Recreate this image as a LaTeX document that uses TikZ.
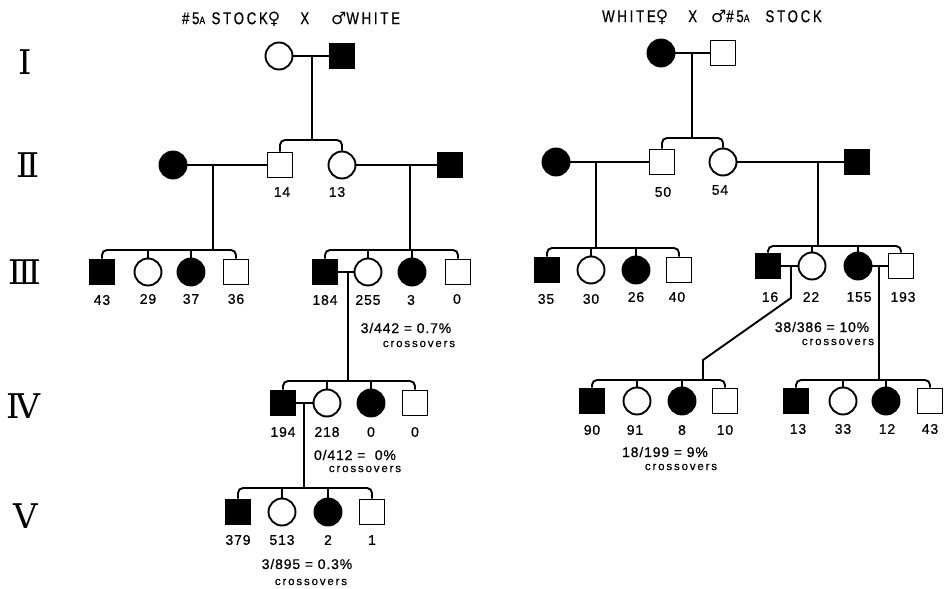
\documentclass[tikz,border=0pt]{standalone}
\usepackage{fontspec}
\setmainfont{Liberation Sans}
\newfontfamily\romfont{DejaVu Serif}
\newfontfamily\titlefont[FakeStretch=0.78,LetterSpace=16,FakeBold=0.6]{Liberation Sans}
\newfontfamily\symfont{DejaVu Sans}
\newfontfamily\crossfont[LetterSpace=16,FakeBold=0.5]{Liberation Sans}
\newfontfamily\numfont[LetterSpace=6,FakeBold=0.7]{Liberation Sans}
\begin{document}
\begin{tikzpicture}[x=1pt,y=-1pt,
 ln/.style={line width=1.9pt},
 sib/.style={line width=1.9pt, rounded corners=5pt},
 male/.style={rectangle, draw, line width=1.9pt, minimum size=25pt, inner sep=0pt},
 female/.style={circle, draw, line width=1.9pt, minimum size=27pt, inner sep=0pt},
 aff/.style={fill=black},
 num/.style={inner sep=0pt, font=\numfont\fontsize{14}{14}\selectfont},
 fractxt/.style={inner sep=0pt, font=\numfont\fontsize{14}{14}\selectfont},
 crosstxt/.style={inner sep=0pt, font=\crossfont\fontsize{11.5}{11.5}\selectfont},
 gen/.style={inner sep=0pt, font=\romfont\fontsize{34}{34}\selectfont},
 ttl/.style={inner sep=0pt, font=\titlefont\fontsize{17}{17}\selectfont}]
\useasboundingbox (0,0) rectangle (946,589);

% titles
\node[ttl] (tl) at (291,19) {\#5{\fontsize{11}{11}\selectfont A} STOCK{\symfont ♀}\hspace{20pt}X\hspace{22pt}{\symfont ♂}WHITE};
\node[ttl] (tr) at (712,17) {WHITE{\symfont ♀}\hspace{20pt}X\hspace{14pt}{\symfont ♂}\#5{\fontsize{11}{11}\selectfont A}\hspace{16pt}STOCK};

% generation numerals
\node[gen] (g1) at (25,62) {Ⅰ};
\node[gen] (g2) at (28,165) {Ⅱ};
\node[gen] (g3) at (25,272) {Ⅲ};
\node[gen] (g4) at (23,406) {Ⅳ};
\node[gen] (g5) at (26,516) {Ⅴ};

% ================= LEFT PEDIGREE =================
\node[female] (lI1) at (279,56) {};
\node[male,aff] (lI2) at (342,56) {};
\draw[ln] (lI1.east) -- (lI2.west);
\coordinate (d1) at (312,56);
\coordinate (s1) at (312,140);
\draw[ln] (d1) -- (s1);

\node[female,aff] (lII1) at (173,165) {};
\node[male] (lII2) at (280,165) {};
\node[female] (lII3) at (342,165) {};
\node[male,aff] (lII4) at (450,165) {};
\draw[sib] (lII2.north) |- (s1) -| (lII3.north);
\draw[ln] (lII1.east) -- (lII2.west);
\draw[ln] (lII3.east) -- (lII4.west);
\node[num] (n14) at (282,192) {14};
\node[num] (n13) at (337,192) {13};

\coordinate (d2) at (213,165);
\coordinate (s2) at (213,250);
\draw[ln] (d2) -- (s2);
\coordinate (d3) at (410,165);
\coordinate (s3) at (410,250);
\draw[ln] (d3) -- (s3);

\node[male,aff] (lIII1) at (102,272) {};
\node[female] (lIII2) at (148,272) {};
\node[female,aff] (lIII3) at (191,272) {};
\node[male] (lIII4) at (236,272) {};
\draw[sib] (lIII1.north) |- (s2) -| (lIII4.north);
\draw[ln] (lIII2.north) -- (lIII2.north |- s2);
\draw[ln] (lIII3.north) -- (lIII3.north |- s2);
\node[num] (n43) at (102,300) {43};
\node[num] (n29) at (148,299) {29};
\node[num] (n37) at (191,299) {37};
\node[num] (n36) at (236,299) {36};

\node[male,aff] (lIII5) at (325,272) {};
\node[female] (lIII6) at (368,272) {};
\node[female,aff] (lIII7) at (412,272) {};
\node[male] (lIII8) at (458,272) {};
\draw[sib] (lIII5.north) |- (s3) -| (lIII8.north);
\draw[ln] (lIII6.north) -- (lIII6.north |- s3);
\draw[ln] (lIII7.north) -- (lIII7.north |- s3);
\node[num] (n184) at (325,300) {184};
\node[num] (n255) at (368,300) {255};
\node[num] (n3) at (411,300) {3};
\node[num] (n0a) at (457,299) {0};
\draw[ln] (lIII5.east) -- (lIII6.west);
\coordinate (d4) at (348,272);
\coordinate (s4) at (348,381);
\draw[ln] (d4) -- (s4);
\node[fractxt] (f1) at (406,328) {3/442 = 0.7\%};
\node[crosstxt] (c1) at (419,344) {crossovers};

\node[male,aff] (lIV1) at (283,403) {};
\node[female] (lIV2) at (327,403) {};
\node[female,aff] (lIV3) at (371,403) {};
\node[male] (lIV4) at (415,403) {};
\draw[sib] (lIV1.north) |- (s4) -| (lIV4.north);
\draw[ln] (lIV2.north) -- (lIV2.north |- s4);
\draw[ln] (lIV3.north) -- (lIV3.north |- s4);
\node[num] (n194) at (283,432) {194};
\node[num] (n218) at (327,432) {218};
\node[num] (n0b) at (371,432) {0};
\node[num] (n0c) at (415,432) {0};
\draw[ln] (lIV1.east) -- (lIV2.west);
\coordinate (d5) at (304,403);
\coordinate (s5) at (304,488);
\draw[ln] (d5) -- (s5);
\node[fractxt] (f2) at (355,455) {0/412 = \ 0\%};
\node[crosstxt] (c2) at (365,469) {crossovers};

\node[male,aff] (lV1) at (238,512) {};
\node[female] (lV2) at (282,512) {};
\node[female,aff] (lV3) at (328,512) {};
\node[male] (lV4) at (372,512) {};
\draw[sib] (lV1.north) |- (s5) -| (lV4.north);
\draw[ln] (lV2.north) -- (lV2.north |- s5);
\draw[ln] (lV3.north) -- (lV3.north |- s5);
\node[num] (n379) at (238,540) {379};
\node[num] (n513) at (282,540) {513};
\node[num] (n2) at (328,540) {2};
\node[num] (n1) at (372,540) {1};
\node[fractxt] (f3) at (307,564) {3/895 = 0.3\%};
\node[crosstxt] (c3) at (311,582) {crossovers};

% ================= RIGHT PEDIGREE =================
\node[female,aff] (rI1) at (661,53) {};
\node[male] (rI2) at (723,53) {};
\draw[ln] (rI1.east) -- (rI2.west);
\coordinate (d6) at (692,53);
\coordinate (s6) at (692,138);
\draw[ln] (d6) -- (s6);

\node[female,aff] (rII1) at (556,162) {};
\node[male] (rII2) at (662,162) {};
\node[female] (rII3) at (723,162) {};
\node[male,aff] (rII4) at (857,162) {};
\draw[sib] (rII2.north) |- (s6) -| (rII3.north);
\draw[ln] (rII1.east) -- (rII2.west);
\draw[ln] (rII3.east) -- (rII4.west);
\node[num] (n50) at (663,192) {50};
\node[num] (n54) at (720,190) {54};

\coordinate (d7) at (596,162);
\coordinate (s7) at (596,248);
\draw[ln] (d7) -- (s7);
\coordinate (d8) at (818,162);
\coordinate (s8) at (818,246);
\draw[ln] (d8) -- (s8);

\node[male,aff] (rIII1) at (547,270) {};
\node[female] (rIII2) at (591,270) {};
\node[female,aff] (rIII3) at (636,270) {};
\node[male] (rIII4) at (679,270) {};
\draw[sib] (rIII1.north) |- (s7) -| (rIII4.north);
\draw[ln] (rIII2.north) -- (rIII2.north |- s7);
\draw[ln] (rIII3.north) -- (rIII3.north |- s7);
\node[num] (n35) at (546,299) {35};
\node[num] (n30) at (591,299) {30};
\node[num] (n26) at (636,297) {26};
\node[num] (n40) at (677,297) {40};

\node[male,aff] (rIII5) at (768,266) {};
\node[female] (rIII6) at (812,266) {};
\node[female,aff] (rIII7) at (858,266) {};
\node[male] (rIII8) at (901,266) {};
\draw[sib] (rIII5.north) |- (s8) -| (rIII8.north);
\draw[ln] (rIII6.north) -- (rIII6.north |- s8);
\draw[ln] (rIII7.north) -- (rIII7.north |- s8);
\node[num] (n16) at (770,297) {16};
\node[num] (n22) at (811,297) {22};
\node[num] (n155) at (859,297) {155};
\node[num] (n193) at (903,297) {193};
\draw[ln] (rIII5.east) -- (rIII6.west);
\draw[ln] (rIII7.east) -- (rIII8.west);
\coordinate (d9) at (791,266);
\coordinate (k1) at (791,298);
\coordinate (k2) at (703,360);
\coordinate (s9) at (703,380);
\draw[ln] (d9) -- (k1) -- (k2) -- (s9);
\coordinate (d10) at (879,266);
\coordinate (s10) at (879,380);
\draw[ln] (d10) -- (s10);
\node[fractxt] (f4) at (822,327) {38/386 = 10\%};
\node[crosstxt] (c4) at (838,342) {crossovers};

\node[male,aff] (rIV1) at (592,401) {};
\node[female] (rIV2) at (637,401) {};
\node[female,aff] (rIV3) at (682,401) {};
\node[male] (rIV4) at (725,401) {};
\draw[sib] (rIV1.north) |- (s9) -| (rIV4.north);
\draw[ln] (rIV2.north) -- (rIV2.north |- s9);
\draw[ln] (rIV3.north) -- (rIV3.north |- s9);
\node[num] (n90) at (592,430) {90};
\node[num] (n91) at (635,430) {91};
\node[num] (n8) at (682,430) {8};
\node[num] (n10) at (725,430) {10};
\node[fractxt] (f5) at (665,452) {18/199 = 9\%};
\node[crosstxt] (c5) at (681,467) {crossovers};

\node[male,aff] (rIV5) at (796,401) {};
\node[female] (rIV6) at (843,401) {};
\node[female,aff] (rIV7) at (886,401) {};
\node[male] (rIV8) at (930,401) {};
\draw[sib] (rIV5.north) |- (s10) -| (rIV8.north);
\draw[ln] (rIV6.north) -- (rIV6.north |- s10);
\draw[ln] (rIV7.north) -- (rIV7.north |- s10);
\node[num] (n13b) at (798,429) {13};
\node[num] (n33) at (843,429) {33};
\node[num] (n12) at (887,429) {12};
\node[num] (n43b) at (930,429) {43};
\end{tikzpicture}
\end{document}
